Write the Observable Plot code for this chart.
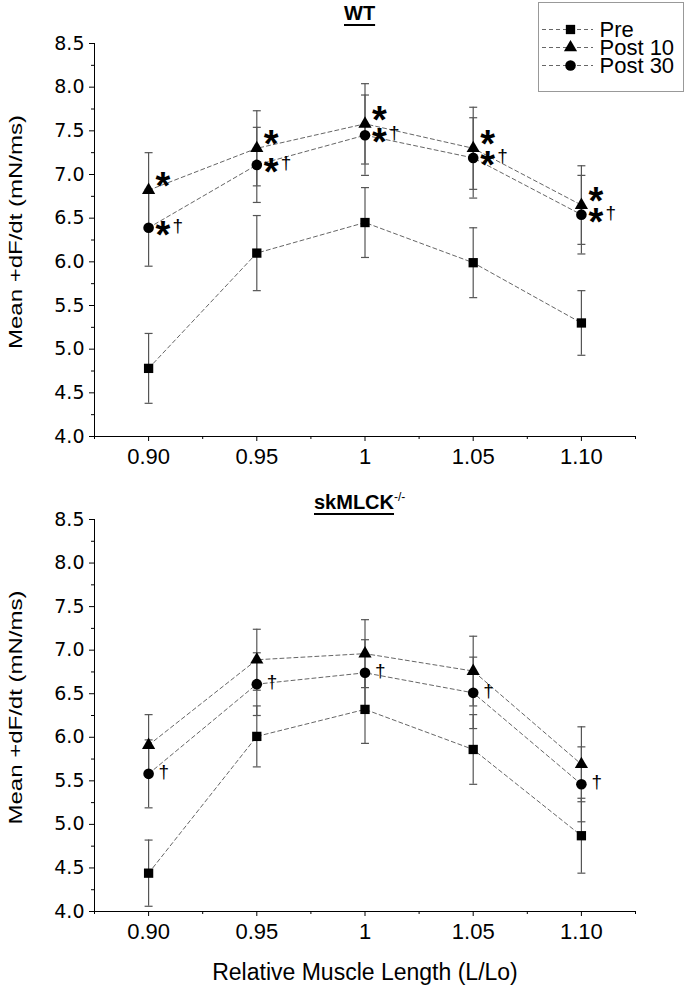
<!DOCTYPE html>
<html>
<head>
<meta charset="utf-8">
<script src="https://cdn.jsdelivr.net/npm/d3@7"></script>
<script src="https://cdn.jsdelivr.net/npm/@observablehq/plot@0.6"></script>
<style>
  body { margin: 0; background: #fff; }
  #wrap { position: relative; width: 685px; height: 989px; font-family: "Liberation Sans", Arial, sans-serif; color: #000; }
  .panel { position: absolute; left: 0; }
  .title { position: absolute; font-weight: bold; font-size: 20px; white-space: nowrap; line-height: 22px; }
  .title u { text-decoration-thickness: 2px; text-underline-offset: 4px; }
  .title sup { font-weight: normal; font-size: 12px; vertical-align: 8px; }
  #legend { position: absolute; left: 538px; top: 2px; border: 1px solid #999; background: #fff; line-height: 0; }
</style>
</head>
<body>
<div id="wrap">
  <div id="top" class="panel" style="top:0"></div>
  <div id="bottom" class="panel" style="top:490px"></div>
  <div class="title" id="t1" style="left:344px; top:2px;"><u>WT</u></div>
  <div class="title" id="t2" style="left:314px; top:486px;"><u>skMLCK</u><sup>-/-</sup></div>
  <div id="legend"></div>
</div>
<script>
// ---- data ----
const lengths = [0.90, 0.95, 1.00, 1.05, 1.10];
const lengthLabels = ["0.90", "0.95", "1", "1.05", "1.10"];
const minorLengths = [0.875, 0.925, 0.975, 1.025, 1.075, 1.125];
const seriesNames = ["Pre", "Post 10", "Post 30"];
const yMajor = [4.0, 4.5, 5.0, 5.5, 6.0, 6.5, 7.0, 7.5, 8.0, 8.5];
const yMajorLabels = ["4.0", "4.5", "5.0", "5.5", "6.0", "6.5", "7.0", "7.5", "8.0", "8.5"];
const yMinor = [4.25, 4.75, 5.25, 5.75, 6.25, 6.75, 7.25, 7.75, 8.25];
const yLabel = "Mean +dF/dt (mN/ms)";
const xLabel = "Relative Muscle Length (L/Lo)";

// WT
const wtPre = [4.78, 6.10, 6.45, 5.99, 5.30];
const wtPreErr = [0.40, 0.43, 0.40, 0.40, 0.37];
const wtPost10 = [6.82, 7.30, 7.58, 7.30, 6.65];
const wtPost10Err = [0.43, 0.43, 0.46, 0.47, 0.45];
const wtPost30 = [6.39, 7.11, 7.45, 7.19, 6.54];
const wtPost30Err = [0.44, 0.43, 0.46, 0.46, 0.45];
const wtPreAst = ["", "", "", "", ""];
const wtPost10Ast = ["*", "*", "*", "*", "*"];
const wtPost30Ast = ["*", "*", "*", "*", "*"];
const wtPreDag = ["", "", "", "", ""];
const wtPost10Dag = ["", "", "", "", ""];
const wtPost30Dag = ["†", "†", "†", "†", "†"];

// skMLCK-/-
const koPre = [4.44, 6.01, 6.32, 5.86, 4.87];
const koPreErr = [0.38, 0.35, 0.39, 0.40, 0.43];
const koPost10 = [5.91, 6.89, 6.96, 6.76, 5.69];
const koPost10Err = [0.35, 0.35, 0.39, 0.40, 0.43];
const koPost30 = [5.58, 6.61, 6.74, 6.51, 5.46];
const koPost30Err = [0.39, 0.36, 0.38, 0.41, 0.43];
const koPreAst = ["", "", "", "", ""];
const koPost10Ast = ["", "", "", "", ""];
const koPost30Ast = ["", "", "", "", ""];
const koPreDag = ["", "", "", "", ""];
const koPost10Dag = ["", "", "", "", ""];
const koPost30Dag = ["†", "†", "†", "†", "†"];

// ---- styling ----
const symbolBySeries = {"Pre": "square", "Post 10": "triangle", "Post 30": "circle"};
const rBySeries = {"Pre": 5.25, "Post 10": 4.9, "Post 30": 5.3};
const capSymbol = {
  draw(ctx, size) { const w = Math.sqrt(size); ctx.moveTo(-w / 2, 0); ctx.lineTo(w / 2, 0); }
};
const FONT = '"Liberation Sans", Arial, sans-serif';

function makePanel({vals, errs, asts, dags, height, marginTop, marginBottom, showXLabel}) {
  const rows = [];
  seriesNames.forEach((s, k) => lengths.forEach((x, i) => rows.push({
    series: s, x, y: vals[k][i], err: errs[k][i], ast: asts[k][i], dag: dags[k][i]
  })));
  const marks = [
    Plot.ruleY([yMajor[0]]),
    Plot.ruleX([minorLengths[0]]),
    Plot.axisY({ticks: yMajor, tickSize: 5, tickPadding: 5, tickFormat: d => yMajorLabels[yMajor.indexOf(d)],
      fontFamily: '"DejaVu Sans", sans-serif', fontSize: 19, label: null}),
    Plot.axisY({ticks: yMinor, tickSize: 3, fill: "none", label: null}),
    Plot.axisX({ticks: lengths, tickSize: 5, tickPadding: 7, tickFormat: d => lengthLabels[lengths.indexOf(d)],
      fontSize: 22, label: null}),
    Plot.axisX({ticks: minorLengths, tickSize: 3, fill: "none", label: null}),
    Plot.ruleX(rows, {x: "x", y1: d => d.y - d.err, y2: d => d.y + d.err, stroke: "#555", strokeWidth: 1.2}),
    Plot.dot(rows, {x: "x", y: d => d.y - d.err, symbol: capSymbol, r: 4.5, fill: "none", stroke: "#555", strokeWidth: 1.2}),
    Plot.dot(rows, {x: "x", y: d => d.y + d.err, symbol: capSymbol, r: 4.5, fill: "none", stroke: "#555", strokeWidth: 1.2}),
    Plot.line(rows, {x: "x", y: "y", z: "series", stroke: "#666", strokeWidth: 1, strokeDasharray: "4,3"}),
    ...seriesNames.map(s => Plot.dot(rows, {filter: d => d.series === s, x: "x", y: "y",
      symbol: symbolBySeries[s], r: rBySeries[s], fill: "#000", stroke: "none"})),
    Plot.text(rows, {filter: d => d.ast && d.series === "Post 10", x: "x", y: "y", text: "ast",
      textAnchor: "start", dx: 7, dy: -3, fontSize: 38, fontWeight: "bold"}),
    Plot.text(rows, {filter: d => d.ast && d.series !== "Post 10", x: "x", y: "y", text: "ast",
      textAnchor: "start", dx: 7, dy: 8, fontSize: 38, fontWeight: "bold"}),
    Plot.text(rows, {filter: d => d.dag && d.ast, x: "x", y: "y", text: "dag",
      textAnchor: "start", dx: 24, dy: -2, fontSize: 19}),
    Plot.text(rows, {filter: d => d.dag && !d.ast, x: "x", y: "y", text: "dag",
      textAnchor: "start", dx: 10, dy: -2, fontSize: 19}),
    Plot.text([yLabel], {frameAnchor: "left", textAnchor: "middle", dx: -79, dy: -8, rotate: -90,
      text: d => d, fontSize: 24})
  ];
  if (showXLabel) {
    marks.push(Plot.text([xLabel], {frameAnchor: "bottom", textAnchor: "middle", dy: 68, text: d => d, fontSize: 23}));
  }
  const chart = Plot.plot({
    width: 685, height, marginTop, marginBottom, marginLeft: 94, marginRight: 50,
    style: {fontFamily: FONT, fontSize: "21px", color: "#000", background: "transparent", overflow: "visible"},
    x: {domain: [minorLengths[0], minorLengths[minorLengths.length - 1]]},
    y: {domain: [yMajor[0], yMajor[yMajor.length - 1]]},
    marks
  });
  // the reference's y title is drawn with narrow glyphs: squash the glyph height
  d3.select(chart).selectAll("text").filter(function () { return this.textContent === yLabel; })
    .each(function () {
      const t = this.getAttribute("transform") || "";
      this.setAttribute("transform", t + " scale(1,0.8)");
    });
  return chart;
}

document.getElementById("top").append(makePanel({
  vals: [wtPre, wtPost10, wtPost30],
  errs: [wtPreErr, wtPost10Err, wtPost30Err],
  asts: [wtPreAst, wtPost10Ast, wtPost30Ast],
  dags: [wtPreDag, wtPost10Dag, wtPost30Dag],
  height: 490, marginTop: 43, marginBottom: 54, showXLabel: false
}));

document.getElementById("bottom").append(makePanel({
  vals: [koPre, koPost10, koPost30],
  errs: [koPreErr, koPost10Err, koPost30Err],
  asts: [koPreAst, koPost10Ast, koPost30Ast],
  dags: [koPreDag, koPost10Dag, koPost30Dag],
  height: 499, marginTop: 29, marginBottom: 78, showXLabel: true
}));

// legend
document.getElementById("legend").append(Plot.plot({
  width: 144, height: 88, margin: 0,
  style: {fontFamily: FONT, fontSize: "22px", color: "#000", background: "transparent", overflow: "visible"},
  x: {domain: [0, 144], range: [0, 144], axis: null},
  y: {type: "point", domain: seriesNames, range: [16, 71], axis: null},
  marks: [
    Plot.ruleY(seriesNames, {y: d => d, x1: 3, x2: 54, stroke: "#666", strokeWidth: 1, strokeDasharray: "4,3"}),
    ...seriesNames.map(s => Plot.dot([s], {x: 31, y: d => d, symbol: symbolBySeries[s], r: rBySeries[s], fill: "#000", stroke: "none"})),
    Plot.text(seriesNames, {x: 60, y: d => d, text: d => d, textAnchor: "start", fontSize: 22})
  ]
}));
</script>
</body>
</html>
